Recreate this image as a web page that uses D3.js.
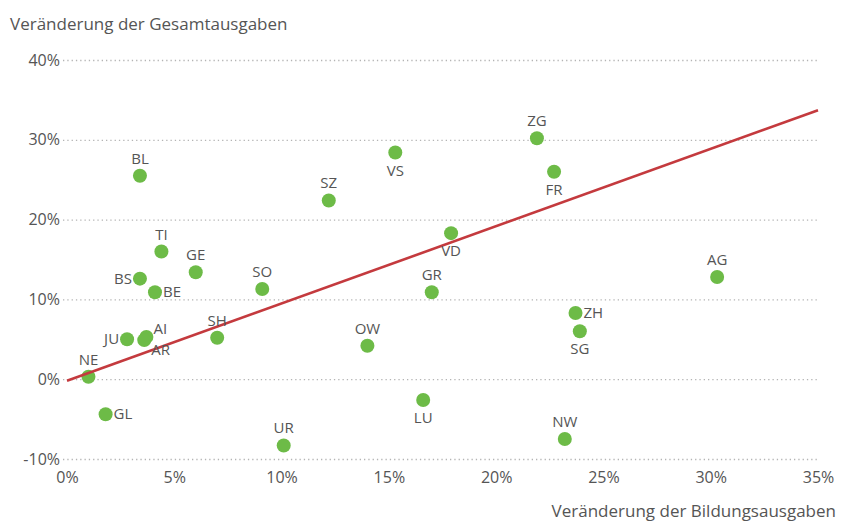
<!DOCTYPE html>
<html>
<head>
<meta charset="utf-8">
<script src="https://cdn.jsdelivr.net/npm/d3@7"></script>
<style>
  body { margin: 0; background: #fff; }
  svg text { font-family: "Open Sans", "Noto Sans", sans-serif; fill: #555; }
</style>
</head>
<body>
<div id="chart"></div>
<script>
// Kantone: Veränderung der Bildungsausgaben (x) vs. Gesamtausgaben (y), in %
var cantons = ["NE", "GL", "JU", "AI", "AR", "BS", "BE", "BL", "TI", "GE", "SH", "SO", "UR", "SZ", "OW", "VS", "LU", "GR", "VD", "ZG", "FR", "NW", "ZH", "SG", "AG"];
var bildung = [1.0, 1.8, 2.8, 3.7, 3.6, 3.4, 4.1, 3.4, 4.4, 6.0, 7.0, 9.1, 10.1, 12.2, 14.0, 15.3, 16.6, 17.0, 17.9, 21.9, 22.7, 23.2, 23.7, 23.9, 30.3];
var gesamt = [0.3, -4.4, 5.0, 5.3, 4.9, 12.6, 10.9, 25.5, 16.0, 13.4, 5.2, 11.3, -8.3, 22.4, 4.2, 28.4, -2.6, 10.9, 18.3, 30.2, 26.0, -7.5, 8.3, 6.0, 12.8];
var xTicks = [0, 5, 10, 15, 20, 25, 30, 35];
var yTicks = [-10, 0, 10, 20, 30, 40];
// Regressionsgerade (Start- und Endwert)
var trendX = [0, 35];
var trendY = [-0.2, 33.7];

// wo das Kürzel neben dem Punkt steht
var labelSide = {
  NE: "top", GL: "right", JU: "left", AI: "topright", AR: "bottomright",
  BS: "left", BE: "right", BL: "top", TI: "top", GE: "top", SH: "top",
  SO: "top", UR: "top", SZ: "top", OW: "top", VS: "bottom", LU: "bottom",
  GR: "top", VD: "bottom", ZG: "top", FR: "bottom", NW: "top", ZH: "right",
  SG: "bottom", AG: "top"
};

var width = 846, height = 523;

var svg = d3.select("#chart").append("svg")
    .attr("width", width)
    .attr("height", height);

var x = d3.scaleLinear().domain([0, 35]).range([67, 818]);
var y = d3.scaleLinear().domain([-10, 40]).range([459, 60]);

// horizontale Hilfslinien
svg.append("g")
  .selectAll("line")
  .data(yTicks)
  .enter().append("line")
    .attr("x1", 63)
    .attr("x2", 817)
    .attr("y1", function(d) { return y(d) + 0.5; })
    .attr("y2", function(d) { return y(d) + 0.5; })
    .attr("stroke", "#b4b4b4")
    .attr("stroke-width", 1.3)
    .attr("stroke-dasharray", "1.3,3");

// y-Achse
var yAxis = svg.append("g")
    .attr("transform", "translate(62,0)")
    .call(d3.axisLeft(y).tickValues(yTicks).tickSize(0).tickPadding(2)
      .tickFormat(function(d) { return d + "%"; }));
yAxis.select(".domain").remove();
yAxis.selectAll("text")
    .style("font-size", "16px")
    .attr("fill", "#666");

// x-Achse
var xAxis = svg.append("g")
    .attr("transform", "translate(0,470)")
    .call(d3.axisBottom(x).tickValues(xTicks).tickSize(0).tickPadding(2)
      .tickFormat(function(d) { return d + "%"; }));
xAxis.select(".domain").remove();
xAxis.selectAll("text")
    .style("font-size", "16px")
    .attr("fill", "#666");

// Achsentitel
svg.append("text")
    .attr("x", 10)
    .attr("y", 30)
    .style("font-size", "17px")
    .text("Veränderung der Gesamtausgaben");

svg.append("text")
    .attr("x", 836)
    .attr("y", 517)
    .attr("text-anchor", "end")
    .style("font-size", "17px")
    .text("Veränderung der Bildungsausgaben");

var data = cantons.map(function(c, i) {
  return { name: c, x: bildung[i], y: gesamt[i] };
});

// Punkte
svg.append("g")
  .selectAll("circle")
  .data(data)
  .enter().append("circle")
    .attr("cx", function(d) { return x(d.x); })
    .attr("cy", function(d) { return y(d.y); })
    .attr("r", 7)
    .attr("fill", "#6dbb47");

// Trendlinie
svg.append("path")
    .datum(trendX.map(function(v, i) { return [v, trendY[i]]; }))
    .attr("fill", "none")
    .attr("stroke", "#c43a3e")
    .attr("stroke-width", 2.6)
    .attr("d", d3.line()
      .x(function(d) { return x(d[0]); })
      .y(function(d) { return y(d[1]); }));

// Beschriftung
var offsets = {
  top: [0, -12, "middle"],
  bottom: [0, 23, "middle"],
  left: [-8, 5, "end"],
  right: [8, 5, "start"],
  topright: [7, -3, "start"],
  bottomright: [7, 15, "start"]
};

svg.append("g")
  .selectAll("text")
  .data(data)
  .enter().append("text")
    .attr("x", function(d) { return x(d.x) + offsets[labelSide[d.name]][0]; })
    .attr("y", function(d) { return y(d.y) + offsets[labelSide[d.name]][1]; })
    .attr("text-anchor", function(d) { return offsets[labelSide[d.name]][2]; })
    .style("font-size", "15px")
    .text(function(d) { return d.name; });
</script>
</body>
</html>
